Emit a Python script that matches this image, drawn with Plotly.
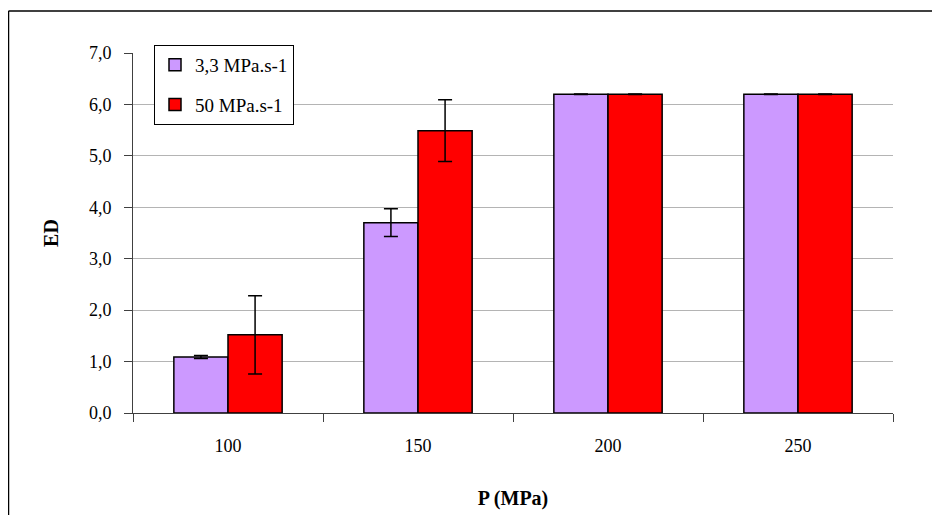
import plotly.graph_objects as go

categories = ["100", "150", "200", "250"]
series_names = ["3,3 MPa.s-1", "50 MPa.s-1"]
ed_slow = [1.09, 3.70, 6.20, 6.20]
err_slow = [0.03, 0.27, 0.005, 0.005]
ed_fast = [1.52, 5.49, 6.20, 6.20]
err_fast = [0.76, 0.60, 0.005, 0.005]
colors = ["#CC99FF", "#FF0000"]

font_family = "'Times New Roman', Tinos, 'Liberation Serif', 'DejaVu Serif', serif"

# page has an 8px body margin; figure coords = screenshot coords - 8
L, T, PW, PH = 125, 45, 760, 360

fig = go.Figure()
for i, (name, vals, errs, col) in enumerate([(series_names[0], ed_slow, err_slow, colors[0]),
                                             (series_names[1], ed_fast, err_fast, colors[1])]):
    fig.add_trace(go.Bar(
        x=categories, y=vals, name=name, legendgroup=f"g{i}",
        marker=dict(color=col, line=dict(color="black", width=1.5)),
        error_y=dict(type="data", array=errs, visible=True,
                     color="black", thickness=1.5, width=7),
    ))

fig.update_layout(
    width=940, height=515,
    margin=dict(l=L, r=940 - L - PW, t=T, b=515 - T - PH),
    paper_bgcolor="white", plot_bgcolor="white",
    barmode="group", bargap=0.43, bargroupgap=0,
    separators=",.",
    font=dict(family=font_family, size=18, color="black"),
    showlegend=True,
    legend=dict(
        x=(154 - 133) / PW, y=(413 - 45) / PH, xanchor="left", yanchor="top",
        bgcolor="white", bordercolor="black", borderwidth=1,
        font=dict(family=font_family, size=19, color="black"),
        tracegroupgap=12,
    ),
    xaxis=dict(
        type="category", tickson="boundaries",
        ticks="outside", ticklen=8, tickcolor="#404040",
        showline=True, linecolor="#404040", linewidth=1,
        showgrid=False, ticklabelstandoff=16,
        title=dict(text="<b>P (MPa)</b>", font=dict(family=font_family, size=20), standoff=36),
        tickfont=dict(family=font_family, size=18),
    ),
    yaxis=dict(
        range=[0, 7], dtick=1, tickformat=".1f",
        ticks="outside", ticklen=8, tickcolor="#404040",
        showline=True, linecolor="#404040", linewidth=1,
        showgrid=True, gridcolor="#B4B4B4", gridwidth=1,
        zeroline=False, ticklabelstandoff=9,
        title=dict(text="<b>ED</b>", font=dict(family=font_family, size=20), standoff=24),
        tickfont=dict(family=font_family, size=18),
    ),
)

x_left = (0.5 - L) / PW
y_top = (T + PH - 3) / PH
fig.add_shape(type="line", xref="paper", yref="paper",
              x0=x_left, x1=1.2, y0=y_top, y1=y_top,
              line=dict(color="black", width=1.5))
fig.add_shape(type="line", xref="paper", yref="paper",
              x0=x_left, x1=x_left, y0=y_top, y1=-0.4,
              line=dict(color="black", width=1.5))

fig.write_html("out.html")
